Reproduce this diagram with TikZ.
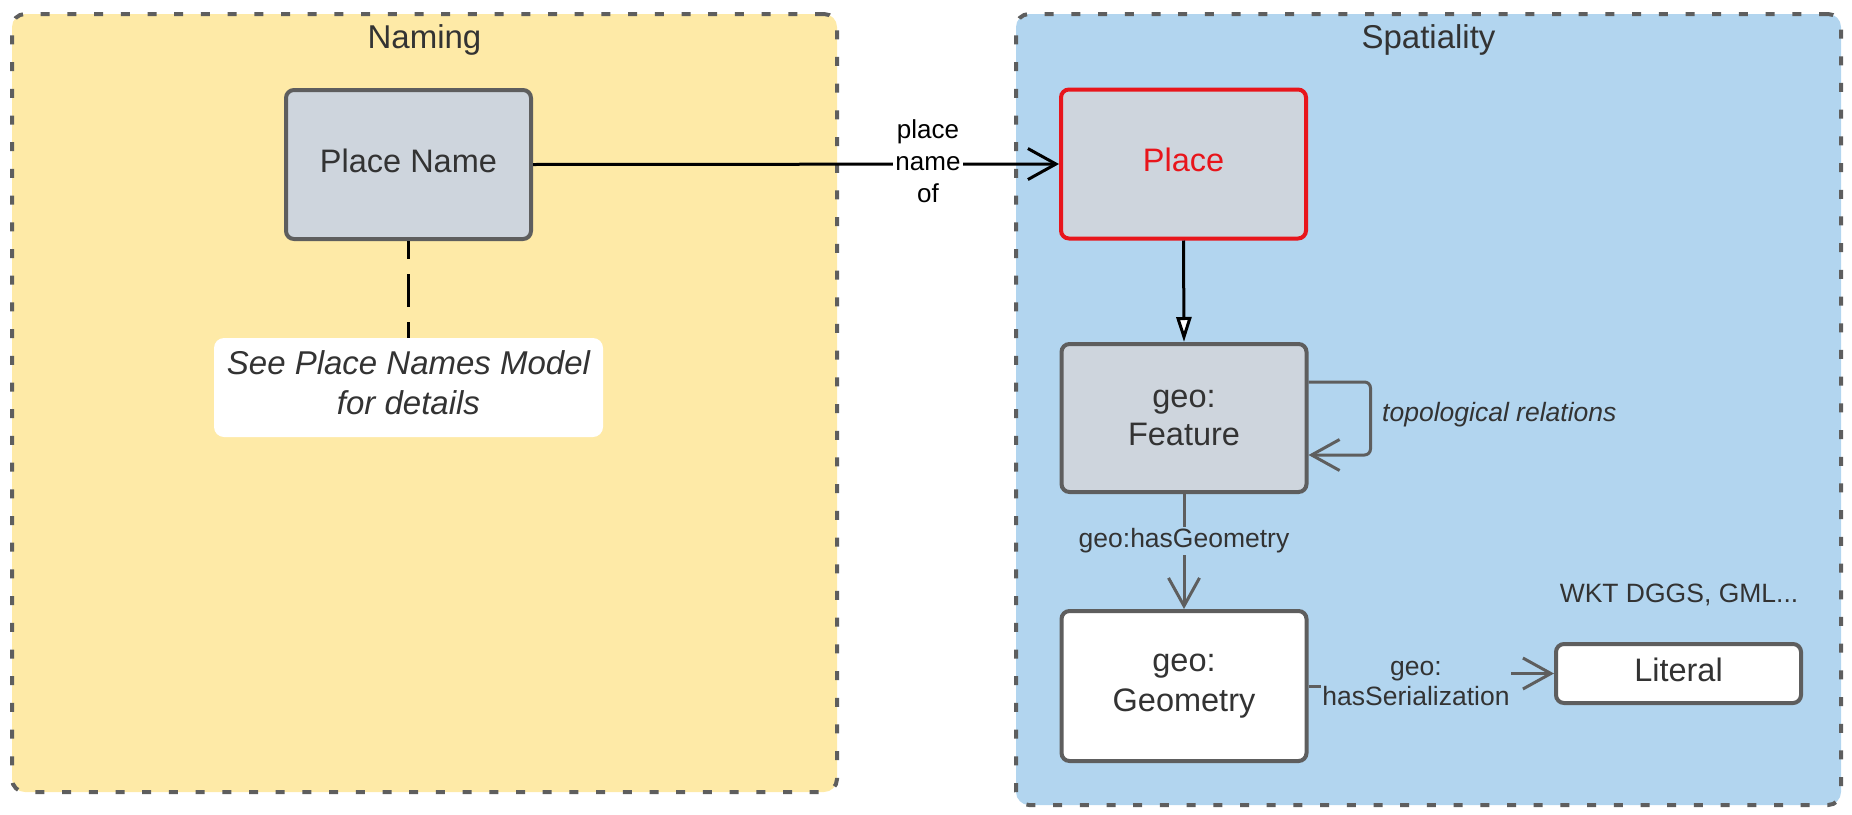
\documentclass[tikz,border=0pt]{standalone}
\usepackage{fontspec}
\setmainfont{Liberation Sans}
\usetikzlibrary{arrows.meta,calc}
\definecolor{yel}{HTML}{FEEAA7}
\definecolor{blu}{HTML}{B2D5EF}
\definecolor{nodegray}{HTML}{CED5DD}
\definecolor{edgec}{HTML}{5E5E5E}
\definecolor{txt}{HTML}{333333}
\definecolor{redc}{HTML}{E8151B}
\begin{document}
\begin{tikzpicture}[x=1pt,y=-1pt,
  container/.style={draw=edgec, line width=4pt, dash pattern=on 9pt off 17.7pt, rounded corners=13pt, inner sep=0pt},
  entity/.style={draw=edgec, line width=4pt, fill=nodegray, rounded corners=8pt, minimum width=245pt, minimum height=149pt, align=center, text=txt, font=\fontsize{32.5}{38}\selectfont, inner sep=0pt},
  oneline/.style={text height=24pt, text depth=9pt},
  title/.style={anchor=base, font=\fontsize{33}{38}\selectfont, text=txt, inner sep=0pt},
  lbl/.style={font=\fontsize{26.5}{30}\selectfont, text=txt, align=center, inner sep=2pt},
  conn/.style={draw=edgec, line width=3pt},
  vee/.style={-{Straight Barb[length=28pt,width=31pt]}}
]
\useasboundingbox (0,0) rectangle (1852,814);
% containers
\node[container, fill=yel, minimum width=825pt, minimum height=778pt] (naming) at (424.5,403) {};
\node[container, fill=blu, minimum width=825pt, minimum height=791pt] (spatial) at (1428.5,409.5) {};
\node[title] (namingt) at (424.5,48) {Naming};
\node[title] (spatialt) at (1428.5,48) {Spatiality};
% entities
\node[entity, oneline] (pn) at (408.5,164.5) {Place Name};
\node[fill=white, rounded corners=10pt, minimum width=389pt, minimum height=99pt, inner sep=0pt, align=center, text=txt, font=\itshape\fontsize{33}{40}\selectfont] (note) at (408.5,387.5) {See Place Names Model\\for details\rule[-9pt]{0pt}{0pt}};
\node[entity, oneline, draw=redc, text=redc] (place) at (1183.5,164) {Place};
\node[entity, minimum height=148pt] (feat) at (1184,418) {geo:\\Feature};
\node[entity, fill=white, minimum height=150pt, font=\fontsize{32.5}{40}\selectfont] (geom) at (1184,686) {geo:\\Geometry};
\node[entity, oneline, fill=white, minimum height=59pt] (lit) at (1678.5,673.5) {Literal};
% connectors
\draw[black, line width=3pt, dash pattern=on 33pt off 15pt, dash phase=15pt] (pn.south) -- (note.north);
\draw[black, line width=3pt, vee] (pn.east) -- (place.west);
\node[lbl, fill=white, text=black, font=\fontsize{26}{32}\selectfont] (lpn) at (928,161) {place\\name\\of};
\draw[black, line width=3pt, -{Triangle[length=25pt,width=15pt,fill=white]}] (place.south) -- (feat.north);
\draw[conn, vee] (feat.south) -- (geom.north);
\node[lbl, fill=blu] (lhg) at (1184,541) {geo:hasGeometry};
\draw[conn, vee, rounded corners=6pt] ($(feat.east)+(0,-36)$) -- ++(62,0) -- ++(0,73) -- ($(feat.east)+(0,37)$);
\node[anchor=west, font=\itshape\fontsize{26.5}{30}\selectfont, text=txt, inner sep=0pt] (ltop) at (1382,415) {topological relations};
\draw[conn, vee] (geom.east) -- ++(108,0) |- (lit.west);
\node[lbl, fill=blu, inner sep=1pt] (lhs) at (1416,683) {geo:\\hasSerialization};
\node[font=\fontsize{26.5}{30}\selectfont, text=txt, inner sep=0pt] (wkt) at (1679,595) {WKT DGGS, GML...};
\end{tikzpicture}
\end{document}
